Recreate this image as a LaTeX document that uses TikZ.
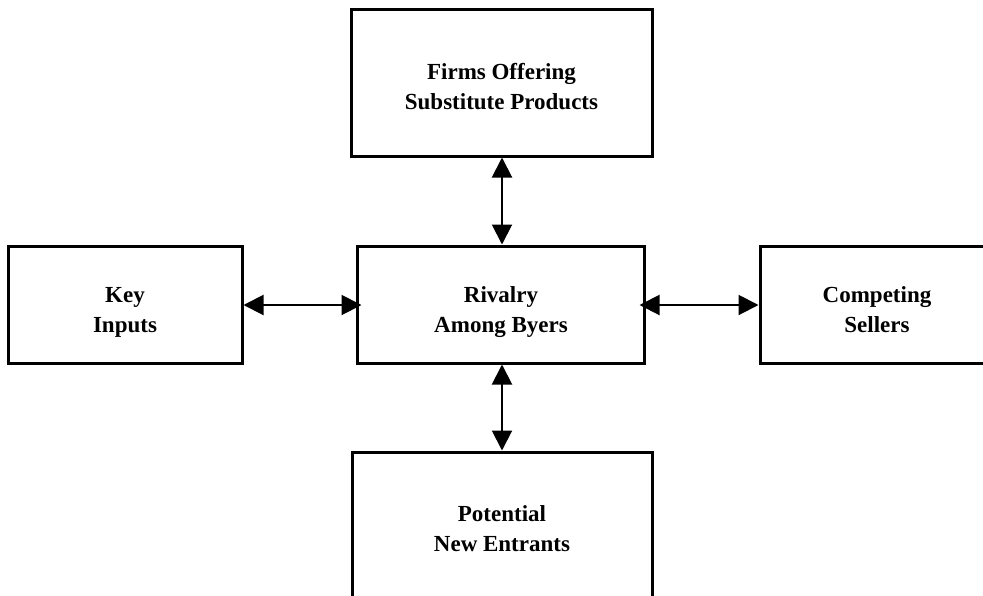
\documentclass[tikz,border=0pt]{standalone}
\usepackage{fontspec}
\setmainfont{Liberation Serif}
\usetikzlibrary{arrows.meta}
\tikzset{
  box/.style={draw=black, line width=3pt, rectangle, inner sep=0pt, fill=white},
  lbl/.style={align=center, inner sep=0pt, font=\fontsize{23}{30}\selectfont\bfseries},
  conn/.style={line width=2pt, {Triangle[length=20pt,width=20pt]}-{Triangle[length=20pt,width=20pt]}}
}
\begin{document}
\begin{tikzpicture}[x=1pt,y=-1pt]
\useasboundingbox (0,0) rectangle (983,595);
\clip (0,0) rectangle (983,595);
\fill[white] (0,0) rectangle (983,595);
% boxes
\node[box, minimum width=301pt, minimum height=146.5pt] (top) at (501.5,82.75) {};
\node[box, minimum width=234pt, minimum height=117pt] (left) at (125,304.5) {};
\node[box, minimum width=287pt, minimum height=117pt] (ctr) at (500.5,304.5) {};
\node[box, minimum width=234pt, minimum height=117pt] (right) at (877,304.5) {};
\node[box, minimum width=300pt, minimum height=154pt] (bot) at (502,529) {};
% labels
\node[lbl] (topL) at (501.5,87) {Firms Offering\\Substitute Products};
\node[lbl] (leftL) at (125,312) {Key\\Inputs};
\node[lbl] (ctrL) at (501,312) {Rivalry\\Among Byers};
\node[lbl] (rightL) at (877,310) {Competing\\Sellers};
\node[lbl] (botL) at (502,529) {Potential\\New Entrants};
% connectors
\coordinate (vx) at (502,0);
\draw[conn] (vx |- top.south) -- (vx |- ctr.north);
\draw[conn] (vx |- ctr.south) -- (vx |- bot.north);
\coordinate (hy) at (0,305);
\draw[conn, shorten >=-6pt] (hy -| left.east) -- (hy -| ctr.west);
\draw[conn, shorten <=-6pt] (hy -| ctr.east) -- (hy -| right.west);
\end{tikzpicture}
\end{document}
